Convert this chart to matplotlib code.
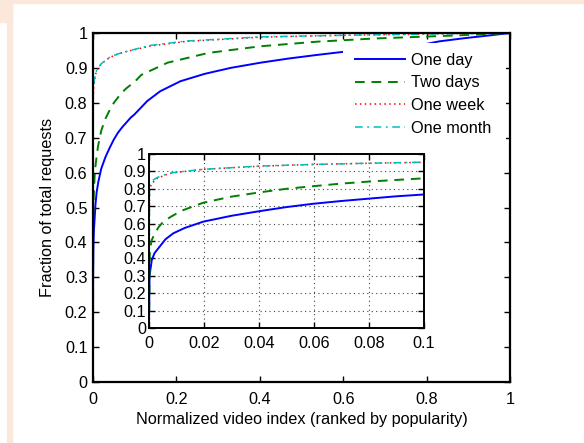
import matplotlib
matplotlib.use("Agg")
import matplotlib.pyplot as plt
from matplotlib.patches import Rectangle

plt.rcParams['font.family'] = ['Liberation Sans', 'DejaVu Sans']

# valeurs
x_day = [0, 0.0002, 0.001, 0.002, 0.004, 0.006, 0.0088, 0.013, 0.0197, 0.03, 0.0404, 0.05,
         0.0597, 0.07, 0.0804, 0.09, 0.0997, 0.13, 0.161, 0.21, 0.268, 0.33, 0.402, 0.47,
         0.536, 0.6, 0.7, 0.78, 0.83, 0.89, 0.95, 1.0]
y_day = [0, 0.3, 0.39, 0.43, 0.47, 0.51, 0.544, 0.575, 0.611, 0.645, 0.672, 0.695,
         0.714, 0.73, 0.744, 0.757, 0.767, 0.805, 0.833, 0.862, 0.883, 0.9, 0.915, 0.927,
         0.937, 0.946, 0.956, 0.964, 0.976, 0.985, 0.993, 1.0]

x_two = [0, 0.0003, 0.001, 0.002, 0.0035, 0.0052, 0.008, 0.012, 0.0197, 0.03, 0.0404, 0.05,
         0.0597, 0.07, 0.0804, 0.09, 0.0997, 0.116, 0.179, 0.277, 0.402, 0.536, 0.67, 0.76,
         0.849, 0.93, 1.0]
y_two = [0, 0.45, 0.505, 0.54, 0.58, 0.611, 0.64, 0.675, 0.72, 0.755, 0.78, 0.8,
         0.815, 0.83, 0.842, 0.851, 0.86, 0.88, 0.915, 0.943, 0.962, 0.975, 0.984, 0.988,
         0.992, 0.996, 1.0]

x_week = [0, 0.0002, 0.001, 0.003, 0.006, 0.0088, 0.0197, 0.0404, 0.0597, 0.0804, 0.0997,
          0.134, 0.224, 0.402, 0.58, 0.8, 1.0]
y_week = [0, 0.80, 0.83, 0.86, 0.88, 0.892, 0.912, 0.93, 0.94, 0.947, 0.952,
          0.962, 0.976, 0.988, 0.993, 0.997, 1.0]

x_month = [0, 0.0002, 0.001, 0.003, 0.006, 0.0088, 0.0197, 0.0404, 0.0597, 0.0804, 0.0997,
           0.134, 0.224, 0.402, 0.58, 0.8, 1.0]
y_month = [0, 0.83, 0.845, 0.865, 0.882, 0.893, 0.912, 0.931, 0.94, 0.947, 0.953,
           0.964, 0.977, 0.989, 0.993, 0.997, 1.0]

labels = ["One day", "Two days", "One week", "One month"]

main_xticks = [0, 0.2, 0.4, 0.6, 0.8, 1]
main_xlabels = ["0", "0.2", "0.4", "0.6", "0.8", "1"]
yticks = [0, 0.1, 0.2, 0.3, 0.4, 0.5, 0.6, 0.7, 0.8, 0.9, 1]
ylabels = ["0", "0.1", "0.2", "0.3", "0.4", "0.5", "0.6", "0.7", "0.8", "0.9", "1"]
inset_xticks = [0, 0.02, 0.04, 0.06, 0.08, 0.1]
inset_xlabels = ["0", "0.02", "0.04", "0.06", "0.08", "0.1"]

FS = 11.7
W, H = 584, 443
fig = plt.figure(figsize=(W / 100, H / 100), dpi=100)

# bordures couleur pêche
peach = "#fbe8da"
fig.patches.append(Rectangle((0, 1 - 3 / H), 1, 3 / H, transform=fig.transFigure, color=peach, zorder=0))
fig.patches.append(Rectangle((7 / W, 0), 5 / W, 1, transform=fig.transFigure, color=peach, zorder=0))
fig.patches.append(Rectangle((0, 1 - 22 / H), 12 / W, 22 / H, transform=fig.transFigure, color=peach, zorder=0))

styles = [
    dict(color="#0000ff", lw=1.4, linestyle="-"),
    dict(color="#008000", lw=1.4, linestyle=(0, (5, 3.5))),
    dict(color="#ff0000", lw=1.1, linestyle=(0, (1, 2.2))),
    dict(color="#00bfbf", lw=1.1, linestyle=(0, (5, 3, 1.2, 3))),
]
series = [(x_day, y_day), (x_two, y_two), (x_week, y_week), (x_month, y_month)]


def style_axes(ax, lw):
    for s in ax.spines.values():
        s.set_linewidth(lw)
    ax.tick_params(direction="in", top=True, right=True, length=4, width=1.0,
                   labelsize=FS, colors="black")


ax = fig.add_axes([93 / W, 1 - 382 / H, 417 / W, 349 / H])
for (xs, ys), st, lab in zip(series, styles, labels):
    ax.plot(xs, ys, label=lab, **st)
ax.set_xlim(0, 1)
ax.set_ylim(0, 1)
ax.set_xticks(main_xticks)
ax.set_xticklabels(main_xlabels)
ax.set_yticks(yticks)
ax.set_yticklabels(ylabels)
style_axes(ax, 1.6)
ax.tick_params(axis="x", pad=7)
ax.tick_params(axis="y", pad=4)
ax.set_xlabel("Normalized video index (ranked by popularity)", fontsize=FS, labelpad=4)
ax.set_ylabel("Fraction of total requests", fontsize=FS, labelpad=7)

# fond blanc de la légende (masque les courbes derrière)
ax.add_patch(Rectangle((0.6, 0.66), 0.39, 0.312, transform=ax.transAxes,
                       facecolor="white", edgecolor="none", zorder=2.5))
leg = ax.legend(loc="upper left", bbox_to_anchor=(0.628, 0.944), fontsize=FS,
                frameon=False, handlelength=3.1, handletextpad=0.35,
                labelspacing=0.48, borderpad=0, borderaxespad=0)
leg.set_zorder(3)

ins = fig.add_axes([149 / W, 1 - 328 / H, 275 / W, 174 / H])
ins.set_facecolor("white")
for (xs, ys), st in zip(series, styles):
    ins.plot(xs, ys, **st)
ins.set_xlim(0, 0.1)
ins.set_ylim(0, 1)
ins.set_xticks(inset_xticks)
ins.set_xticklabels(inset_xlabels)
ins.set_yticks(yticks)
ins.set_yticklabels(ylabels)
ins.grid(True, linestyle=(0, (1, 3)), color="#444444", linewidth=0.8)
style_axes(ins, 1.4)
ins.tick_params(axis="x", pad=6)
ins.tick_params(axis="y", pad=2)

fig.savefig("out.png", dpi=100)
